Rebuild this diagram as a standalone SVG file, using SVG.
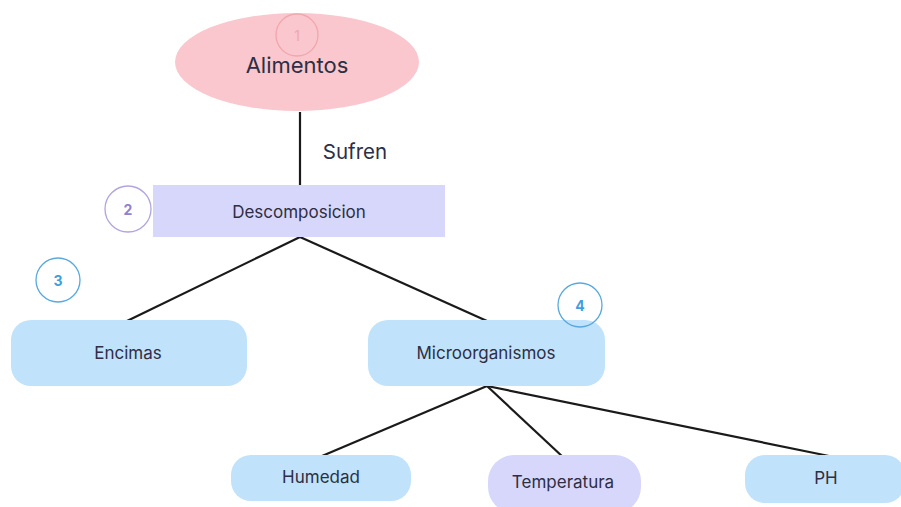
<svg xmlns="http://www.w3.org/2000/svg" width="901" height="507" viewBox="0 0 901 507">
<style>
text{font-family:Inter,"Noto Sans","Liberation Sans",sans-serif;fill:#2e2e44;text-anchor:middle;dominant-baseline:central}
.lbl{font-size:17px}
.blue{fill:#c0e2fa}
.lav{fill:#d6d7fb}
.conn line{stroke:#1a1a1a;stroke-width:2.2}
.badge{fill:none;stroke-width:1.3}
.num{font-size:14px;font-weight:bold}
</style>
<rect width="901" height="507" fill="#ffffff"/>
<g class="conn">
<line x1="300" y1="112" x2="300" y2="185"/>
<line x1="300" y1="237" x2="127" y2="321"/>
<line x1="300" y1="237" x2="487" y2="321"/>
<line x1="487" y1="386" x2="322" y2="456"/>
<line x1="487" y1="386" x2="564" y2="458"/>
<line x1="487" y1="386" x2="829" y2="456"/>
</g>
<text x="355" y="151" style="font-size:20.5px">Sufren</text>
<g id="alimentos">
<ellipse cx="297" cy="62" rx="122" ry="49" fill="#f9c7cd"/>
<circle class="badge" cx="297" cy="35" r="21" stroke="#f1a6ae"/>
<text class="num" x="297" y="35" style="fill:#f0a8b0;font-weight:normal">1</text>
<text x="297" y="65" style="font-size:22px">Alimentos</text>
</g>
<g id="descomposicion">
<rect class="lav" x="153" y="185" width="292" height="52"/>
<circle class="badge" cx="128" cy="209" r="23" stroke="#b3a3e0"/>
<text class="num" x="128" y="209" style="fill:#8f82cf">2</text>
<text class="lbl" x="299" y="212">Descomposicion</text>
</g>
<g id="encimas">
<rect class="blue" x="11" y="320" width="236" height="66" rx="20"/>
<circle class="badge" cx="58" cy="280" r="22" stroke="#5aa9de"/>
<text class="num" x="58" y="280" style="fill:#3d9ee0">3</text>
<text class="lbl" x="128" y="353">Encimas</text>
</g>
<g id="microorganismos">
<rect class="blue" x="368" y="320" width="237" height="66" rx="20"/>
<circle class="badge" cx="580" cy="305" r="22" stroke="#5aa9de"/>
<text class="num" x="580" y="305" style="fill:#3d9ee0">4</text>
<text class="lbl" x="486" y="353">Microorganismos</text>
</g>
<g id="humedad">
<rect class="blue" x="231" y="455" width="180" height="46" rx="20"/>
<text class="lbl" x="321" y="477">Humedad</text>
</g>
<g id="temperatura">
<rect class="lav" x="488" y="455" width="153" height="58" rx="26"/>
<text class="lbl" x="563" y="482">Temperatura</text>
</g>
<g id="ph">
<rect class="blue" x="745" y="455" width="160" height="48" rx="20"/>
<text class="lbl" x="826" y="478">PH</text>
</g>
</svg>
